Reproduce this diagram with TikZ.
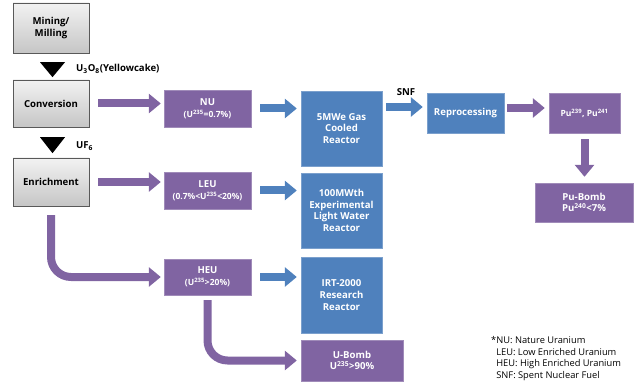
\documentclass[tikz,border=0pt]{standalone}
\usepackage{fontspec}
\setmainfont{Open Sans}
\usetikzlibrary{arrows.meta,calc}
\definecolor{purp}{HTML}{8064A2}
\definecolor{blu}{HTML}{4F81BD}
\newcommand{\subline}[1]{{\fontsize{8.5}{10}\selectfont #1}}

\begin{document}
\begin{tikzpicture}[x=1pt,y=-1pt,
    box/.style={rectangle,inner sep=0,align=center,font=\fontsize{9.6}{11.7}\selectfont\bfseries},
    graybox/.style={box,draw=gray!70!black,top color=gray!10,bottom color=gray!45,minimum width=76,minimum height=47},
    purpbox/.style={box,fill=purp,draw=purp!75!white,text=white,minimum width=87,minimum height=37},
    bluebox/.style={box,fill=blu,draw=blu!75!white,text=white,minimum width=81,minimum height=75},
    lbl/.style={font=\fontsize{9.6}{11}\selectfont\bfseries,inner sep=0},
    fat/.style={line width=8pt,-{Triangle[width=19pt,length=12pt]}},
    purparrow/.style={fat,draw=purp},
    bluearrow/.style={fat,draw=blu}]
    \useasboundingbox (0,0) rectangle (635,385);

    % fuel cycle, left column
    \node[graybox,minimum height=50] (mine) at (51,28) {Mining/\\Milling};
    \node[graybox] (conv) at (51,103.5) {Conversion};
    \node[graybox,minimum height=48] (enr) at (51,182) {Enrichment};

    \fill ($(mine.south)+(-11,9)$) -- ++(25,0) -- ++(-12.5,15) -- cycle;
    \node[lbl,anchor=west] (yc) at (76,69) {U\textsubscript{3}O\textsubscript{8}(Yellowcake)};
    \fill ($(conv.south)+(-11,10)$) -- ++(25,0) -- ++(-12.5,16) -- cycle;
    \node[lbl,anchor=west] (uf) at (76,146) {UF\textsubscript{6}};

    % uranium grades
    \node[purpbox] (nu) at (207.5,108.5) {NU\\\subline{(U\textsuperscript{235}=0.7\%)}};
    \node[purpbox] (leu) at (207.5,190.5) {LEU\\\subline{(0.7\%<U\textsuperscript{235}<20\%)}};
    \node[purpbox,minimum height=36] (heu) at (207.5,277) {HEU\\\subline{(U\textsuperscript{235}>20\%)}};

    % reactors
    \node[bluebox] (gcr) at (341.5,128.5) {5MWe Gas\\Cooled\\Reactor};
    \node[bluebox] (lwr) at (341.5,210.5) {100MWth\\Experimental\\Light Water\\Reactor};
    \node[bluebox,minimum height=76] (irt) at (341.5,295) {IRT-2000\\Research\\Reactor};
    \node[purpbox,minimum width=102,minimum height=41] (ub) at (352,360.5) {U-Bomb\\U\textsuperscript{235}>90\%};

    % plutonium path
    \node[bluebox,minimum width=77,minimum height=40] (rep) at (465.5,113) {Reprocessing};
    \node[purpbox,minimum width=71,minimum height=40,font=\fontsize{8.5}{10}\selectfont\bfseries] (pu) at (584.5,113) {Pu\textsuperscript{239}, Pu\textsuperscript{241}};
    \node[purpbox,minimum width=98,minimum height=39] (pub) at (584,202.5) {Pu-Bomb\\Pu\textsuperscript{240}<7\%};

    % arrows
    \draw[purparrow,shorten <=9pt,shorten >=3pt] (conv.east) -- (conv.east -| nu.west);
    \draw[purparrow,shorten <=9pt,shorten >=3pt] (enr.east) -- (enr.east -| leu.west);
    \draw[purparrow,rounded corners=20pt,shorten >=3pt] ([yshift=-9pt]enr.south) |- (heu.west);
    \draw[bluearrow,shorten <=9pt,shorten >=4pt] (nu.east) -- (nu.east -| gcr.west);
    \draw[bluearrow,shorten <=9pt,shorten >=4pt] (leu.east) -- (leu.east -| lwr.west);
    \draw[bluearrow,shorten <=9pt,shorten >=4pt] (heu.east) -- (heu.east -| irt.west);
    \draw[purparrow,rounded corners=20pt,shorten >=4pt] ([yshift=-5pt]heu.south) |- (ub.west);
    \draw[bluearrow,shorten <=4pt,shorten >=4pt] ([yshift=6pt]rep.west -| gcr.east) -- ([yshift=6pt]rep.west);
    \node[lbl] (snf) at (406,92) {SNF};
    \draw[purparrow,shorten <=3pt,shorten >=4pt] ([yshift=5pt]pu.west -| rep.east) -- ([yshift=5pt]pu.west);
    \draw[purparrow,shorten <=6pt,shorten >=6pt] (pu.south) -- (pu.south |- pub.north);

    % key
    \node[anchor=north west,align=left,inner sep=0,font=\fontsize{9.3}{11.8}\selectfont] (key) at (491,336)
        {*NU: Nature Uranium\\\phantom{*}LEU: Low Enriched Uranium\\\phantom{*}HEU: High Enriched Uranium\\\phantom{*}SNF: Spent Nuclear Fuel};
\end{tikzpicture}
\end{document}
